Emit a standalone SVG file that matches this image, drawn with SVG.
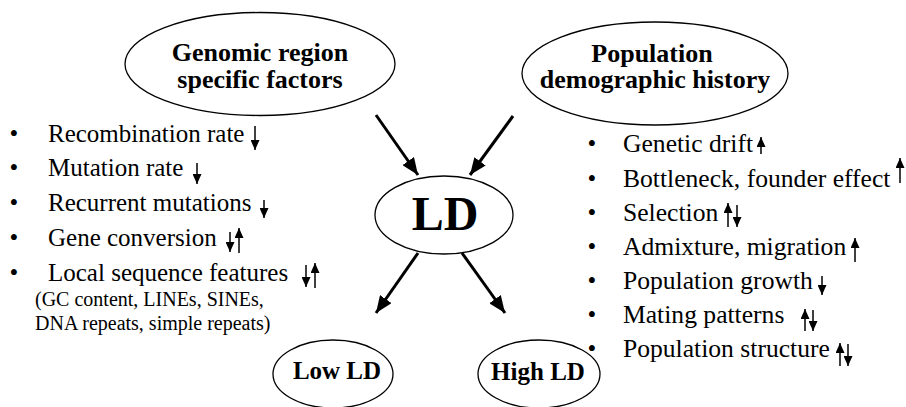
<svg xmlns="http://www.w3.org/2000/svg" width="906" height="407" viewBox="0 0 906 407" font-family="'Liberation Serif', 'DejaVu Serif', serif">
<style>
.el{fill:#fff;stroke:#000;stroke-width:1.3}
.t{font-family:'Liberation Serif','DejaVu Serif',serif;fill:#000}
.b{font-weight:bold}
.h{font-size:26px;text-anchor:middle}
.li{font-size:25px}
.ri{font-size:25.6px}
.sm{font-size:20px}
.bul{font-size:25px;text-anchor:middle}
.big{stroke:#000;stroke-width:3;fill:none;marker-end:url(#bh)}
.sa{stroke:#000;stroke-width:1.5;fill:none;marker-end:url(#sh)}
</style>
<defs>
<marker id="bh" viewBox="0 0 17 14" refX="17" refY="7" markerWidth="17" markerHeight="14" markerUnits="userSpaceOnUse" orient="auto"><path d="M0,0 L17,7 L0,14 z" fill="#000"/></marker>
<marker id="sh" viewBox="0 0 10 9" refX="10" refY="4.5" markerWidth="10" markerHeight="9" markerUnits="userSpaceOnUse" orient="auto"><path d="M0,0 L10,4.5 L0,9 z" fill="#000"/></marker>
</defs>
<rect width="906" height="407" fill="#fff"/>

<g id="connectors">
<line class="big" x1="376" y1="115" x2="418" y2="175"/>
<line class="big" x1="513" y1="116" x2="470" y2="175"/>
<line class="big" x1="418" y1="253" x2="376" y2="313"/>
<line class="big" x1="462" y1="253" x2="505" y2="313"/>
</g>

<g id="genomic">
<ellipse class="el" cx="260" cy="64" rx="135" ry="51.5"/>
<text class="t b h" x="260" y="61">Genomic region</text>
<text class="t b h" x="260" y="88">specific factors</text>
</g>

<g id="population">
<ellipse class="el" cx="655" cy="73.5" rx="133" ry="51.5"/>
<text class="t b h" x="652" y="62">Population</text>
<text class="t b h" x="655" y="88">demographic history</text>
</g>

<g id="ld">
<ellipse class="el" cx="444" cy="215" rx="69" ry="39"/>
<text class="t b" x="445" y="230" font-size="48" text-anchor="middle">LD</text>
</g>

<g id="lowld">
<ellipse class="el" cx="333" cy="374" rx="60" ry="34"/>
<text class="t b" x="337" y="379" font-size="25" text-anchor="middle">Low LD</text>
</g>

<g id="highld">
<ellipse class="el" cx="539" cy="374" rx="61" ry="34"/>
<text class="t b" x="538" y="380" font-size="25" text-anchor="middle">High LD</text>
</g>

<g id="left-list">
<text class="t bul" x="14" y="142">•</text>
<text class="t bul" x="14" y="176">•</text>
<text class="t bul" x="14" y="211">•</text>
<text class="t bul" x="14" y="246">•</text>
<text class="t bul" x="14" y="281">•</text>
<text class="t li" x="48" y="142">Recombination rate</text>
<text class="t li" x="48" y="176">Mutation rate</text>
<text class="t li" x="48" y="211">Recurrent mutations</text>
<text class="t li" x="48" y="246">Gene conversion</text>
<text class="t li" x="48" y="281">Local sequence features</text>
<text class="t sm" x="35" y="306">(GC content, LINEs, SINEs,</text>
<text class="t sm" x="35" y="330">DNA repeats, simple repeats)</text>
<line class="sa" x1="255" y1="126" x2="255" y2="150"/>
<line class="sa" x1="197" y1="163" x2="197" y2="184"/>
<line class="sa" x1="264" y1="200" x2="264" y2="218"/>
<line class="sa" x1="230" y1="232" x2="230" y2="252"/>
<line class="sa" x1="239" y1="253" x2="239" y2="228"/>
<line class="sa" x1="306" y1="265" x2="306" y2="287"/>
<line class="sa" x1="315" y1="288" x2="315" y2="263"/>
</g>

<g id="right-list">
<text class="t bul" x="592" y="152">•</text>
<text class="t bul" x="592" y="187">•</text>
<text class="t bul" x="592" y="221">•</text>
<text class="t bul" x="592" y="255">•</text>
<text class="t bul" x="592" y="289">•</text>
<text class="t bul" x="592" y="323">•</text>
<text class="t bul" x="592" y="357">•</text>
<text class="t ri" x="623" y="152">Genetic drift</text>
<text class="t ri" x="623" y="187">Bottleneck, founder effect</text>
<text class="t ri" x="623" y="221">Selection</text>
<text class="t ri" x="623" y="255">Admixture, migration</text>
<text class="t ri" x="623" y="289">Population growth</text>
<text class="t ri" x="623" y="323">Mating patterns</text>
<text class="t ri" x="623" y="357">Population structure</text>
<line class="sa" x1="761" y1="154" x2="761" y2="137"/>
<line class="sa" x1="900" y1="183" x2="900" y2="158"/>
<line class="sa" x1="728" y1="227" x2="728" y2="203"/>
<line class="sa" x1="737" y1="205" x2="737" y2="227"/>
<line class="sa" x1="855" y1="262" x2="855" y2="238"/>
<line class="sa" x1="822" y1="276" x2="822" y2="295"/>
<line class="sa" x1="805" y1="331" x2="805" y2="309"/>
<line class="sa" x1="813" y1="310" x2="813" y2="331"/>
<line class="sa" x1="840" y1="366" x2="840" y2="343"/>
<line class="sa" x1="848" y1="344" x2="848" y2="366"/>
</g>
</svg>
